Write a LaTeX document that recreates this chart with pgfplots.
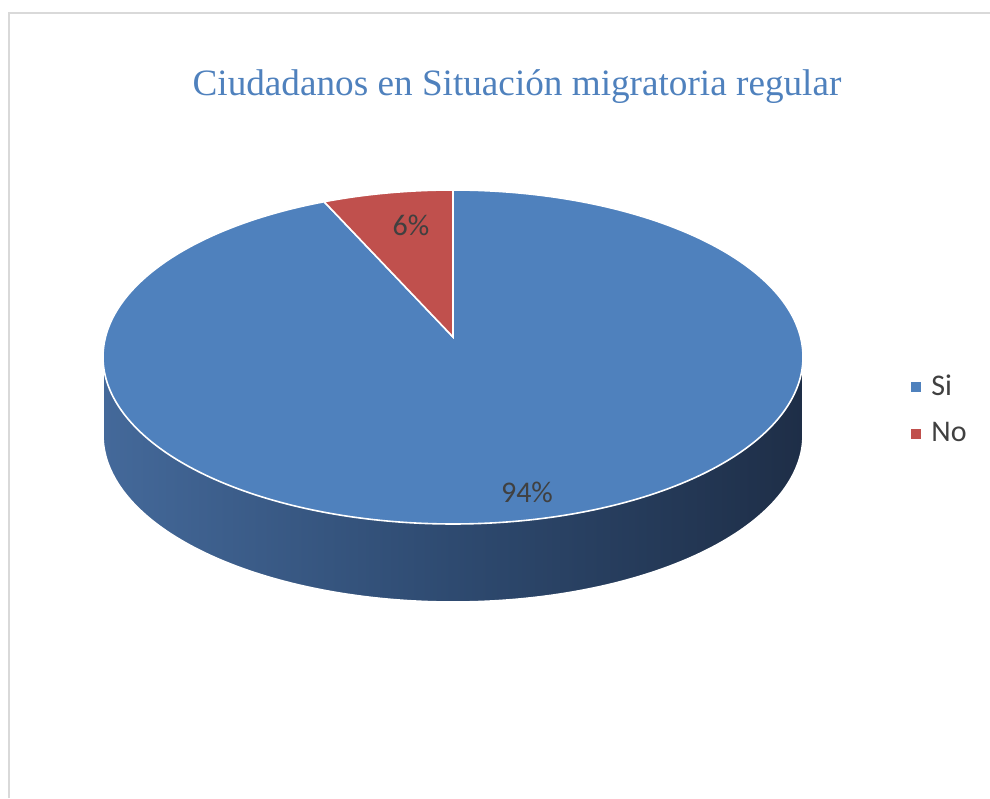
\documentclass[border=0pt]{standalone}
\usepackage{pgfplots}
\pgfplotsset{compat=1.18}
\usepackage{pgfplotstable}
\usepackage{fontspec}
\setmainfont{Carlito}
\newfontfamily\titlefont{Liberation Serif}
\definecolor{pieblue}{HTML}{4F81BD}
\definecolor{piered}{HTML}{C0504D}
\definecolor{titleblue}{HTML}{4F81BD}
\definecolor{labelgray}{HTML}{404040}
\definecolor{framegray}{HTML}{D9D9D9}
\definecolor{sideL}{HTML}{44699A}
\definecolor{sideM}{HTML}{2E4A70}
\definecolor{sideR}{HTML}{1E2E47}

\pgfplotstableread{
label value
Si 94
No 6
}\piedata

\begin{document}%
\begin{tikzpicture}
\pgfplotstablegetelem{0}{value}\of\piedata \pgfmathsetmacro{\vSi}{\pgfplotsretval}
\pgfplotstablegetelem{1}{value}\of\piedata \pgfmathsetmacro{\vNo}{\pgfplotsretval}
\pgfmathsetmacro{\tot}{\vSi+\vNo}
\pgfmathsetmacro{\aSiEnd}{90}
\pgfmathsetmacro{\aSiStart}{90-360*(\vSi/\tot)}
\pgfmathsetmacro{\aNoStart}{\aSiStart-360*(\vNo/\tot)}
\def\cx{453}\def\cy{441}\def\ra{350}\def\rb{167}\def\dep{78}
\begin{axis}[name=ax,
  width=495pt, height=399pt, scale only axis,
  xmin=0, xmax=990, ymin=0, ymax=798,
  hide axis, clip=false, xtick=\empty, ytick=\empty,
  legend image code/.code={\fill[#1,draw=none] (0pt,-2.5pt) rectangle (5pt,2.5pt);},
  legend style={at={(0.9202,0.4862)}, anchor=west, draw=none, fill=none,
    font=\fontsize{15}{18}\selectfont, text=labelgray, row sep=8pt, inner sep=0pt,
    /tikz/every odd column/.append style={column sep=3pt}},
  legend cell align=left,
]
\coordinate (BL) at (rel axis cs:0,0);
\coordinate (TR) at (rel axis cs:1,1);
\draw[framegray, line width=1pt] (axis cs:9,0) -- (axis cs:9,785) -- (axis cs:990,785);
% side wall
\addplot[forget plot, draw=white, line width=0.8pt, left color=sideL, right color=sideR, middle color=sideM,
  domain=180:360, samples=150]
  ({\cx+\ra*cos(x)}, {\cy-\dep+\rb*sin(x)}) -- (axis cs:\cx+\ra,\cy) -- (axis cs:\cx-\ra,\cy) -- cycle;
% top wedges
\addplot[fill=pieblue, draw=white, line width=0.8pt, domain=\aSiStart:\aSiEnd, samples=300]
  ({\cx+\ra*cos(x)}, {\cy+\rb*sin(x)}) -- (axis cs:\cx,\cy+20) -- cycle;
\addlegendentry{Si}
\addplot[fill=piered, draw=white, line width=0.8pt, domain=\aNoStart:\aSiStart, samples=40]
  ({\cx+\ra*cos(x)}, {\cy+\rb*sin(x)}) -- (axis cs:\cx,\cy+20) -- cycle;
\addlegendentry{No}
\node[text=labelgray, font=\fontsize{15}{18}\selectfont] at (axis cs:527,306) {94\%};
\node[text=labelgray, font=\fontsize{15}{18}\selectfont] at (axis cs:411,573) {6\%};
\node[text=titleblue, font=\titlefont\fontsize{18.6}{22}\selectfont, anchor=base] at (axis cs:517,702) {Ciudadanos en Situación migratoria regular};
\end{axis}
\pgfresetboundingbox
\path (BL) rectangle (TR);
\end{tikzpicture}%
\end{document}
